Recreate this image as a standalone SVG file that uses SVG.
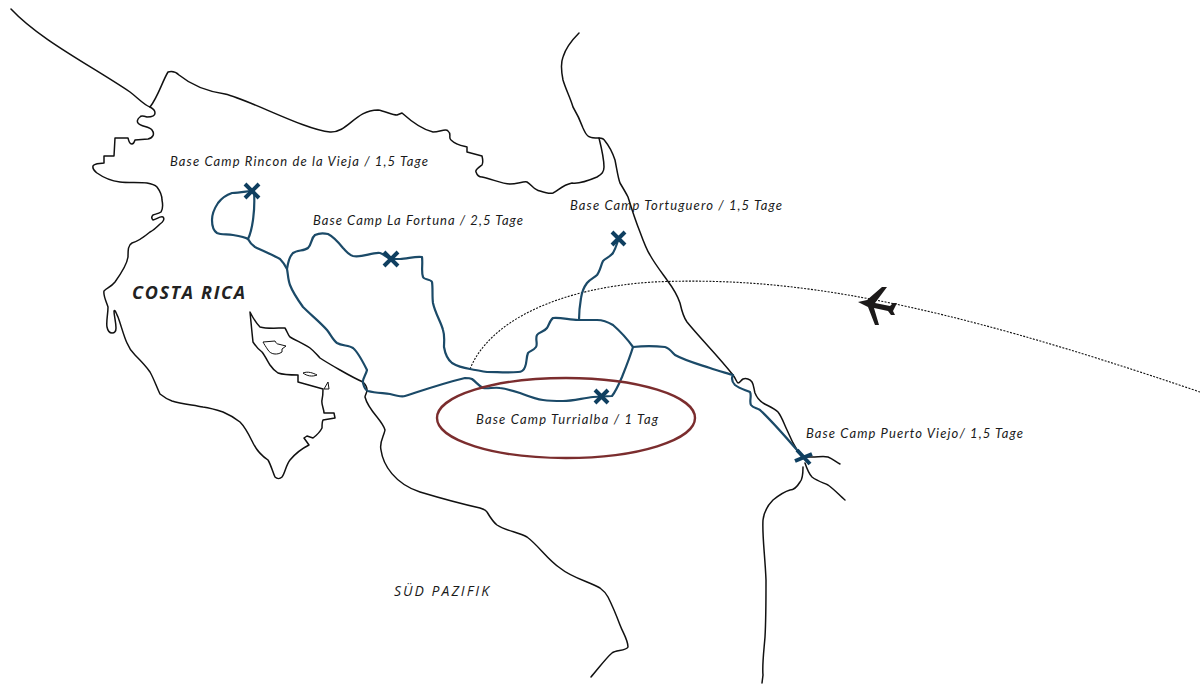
<svg xmlns="http://www.w3.org/2000/svg" width="1200" height="688" viewBox="0 0 1200 688">
<style>
.coast{fill:none;stroke:#111;stroke-width:1.5;stroke-linecap:round;stroke-linejoin:round}
.thin{fill:none;stroke:#111;stroke-width:1;stroke-linejoin:round}
.route{fill:none;stroke:#1b4a68;stroke-width:2.2;stroke-linecap:round;stroke-linejoin:round}
.cross{fill:none;stroke:#0f3f60;stroke-width:4}
.flight{fill:none;stroke:#111;stroke-width:1.1;stroke-dasharray:2 1.4}
.lbl{font-family:"Lato","Liberation Sans",sans-serif;font-style:italic;font-size:13px;fill:#1a1a1a}
</style>
<rect width="1200" height="688" fill="#fff"/>
<g id="coastline">
<path class="coast" d="M11 9C40 40 90 65 130 92C138 98 144 105 150 107C158 97 162 82 168 72C172 71 176 72 179 75C190 84 205 91 225 94C250 100 305 130 330 132C348 133 355 110 378 110C385 111 392 115 397 115L402 113C412 122 424 130 433 132C440 132 446 128 448 131C452 134 448 138 451 140C456 145 463 146 467 147L467 152L482 156C483 160 483 163 482 165C478 168 475 170 476 172C477 175 479 177 482 177C492 179 502 184 510 184C517 184 524 181 527 182C532 185 534 190 540 191C546 193 550 194 553 193C558 191 562 185 572 183C578 184 590 180 597 177C602 174 604 172 604 167C604 158 601 146 599 138C595 138 591 138 590 137C586 136 585 132 583 128C580 120 576 112 573 107C570 97 566 90 563 80C561 70 561 62 563 57C566 47 572 40 579 33"/>
<path class="coast" d="M599 138C602 138 604 139 605 141C610 147 613 154 615 160C617 170 618 178 620 183C623 188 626 193 628 197C632 210 636 222 640 232C644 243 648 252 650 255C655 264 662 273 667 280C673 288 678 297 680 303C682 312 684 318 687 322C700 338 718 356 733 375C736 379 737 383 738 383C740 383 741 380 743 379C746 378 750 379 752 382C754 385 754 390 755 393C757 398 760 401 763 403C768 406 774 408 778 412C782 417 784 424 787 430C790 437 794 445 797 450C799 453 801 456 803 457"/>
<path class="coast" d="M803 457C806 457 809 457 812 457C818 457 824 456 828 457C833 459 836 462 840 464"/>
<path class="coast" d="M805 463C807 469 809 474 812 477C817 481 824 483 828 485C834 489 840 496 845 500"/>
<path class="coast" d="M803 467C803 473 803 479 800 482C797 487 793 490 790 490C783 492 778 496 773 500C768 505 764 512 763 520C762 535 765 555 766 580C766 600 766 620 765 637C764 650 762 665 763 675L762 683"/>
<path class="coast" d="M150 107C152 108 155 110 155 113C155 116 151 117 147 117C144 116 141 115 140 117C137 119 137 122 138 123C141 127 149 126 152 130C155 134 153 138 148 139L135 140C134 143 133 144 132 144C129 144 129 141 128 138L115 138L114 156L104 156L104 163C99 164 95 163 93 166C92 170 96 172 97 173C104 178 112 181 120 182C128 183 140 182 147 183C153 184 156 186 157 187C160 191 162 196 162 200C163 205 163 209 161 212C158 214 155 214 153 215C151 217 152 219 153 220C157 219 160 216 163 217C165 219 163 222 160 224C155 229 154 230 150 232C144 237 139 241 132 243C128 245 128 250 128 257C127 264 120 275 115 282C111 287 107 288 104 291C103 295 106 301 108 307C108 314 106 322 107 327C108 332 110 333 112 333C115 333 116 331 116 328C116 322 114 316 114 311C115 309 116 313 118 317C121 325 124 337 127 343C129 348 132 352 135 355C140 360 146 366 150 372C154 379 157 388 160 394C165 398 169 400 172 401C182 404 194 405 203 407C210 408 217 410 223 412C230 415 235 418 240 422C246 428 250 437 253 443C257 451 262 456 268 460C271 465 273 473 275 477C277 479 280 479 282 477C285 473 286 465 290 460C295 454 303 448 309 445L304 438L307 436L313 438C317 435 320 432 322 428C322 425 322 422 323 420L335 418L334 413L324 413C324 409 321 404 322 400C323 396 323 392 323 389L298 382L298 375C291 375 284 375 278 373C275 371 272 368 270 365C267 360 265 356 262 352C258 349 255 345 253 342C252 333 251 322 250 312C253 318 256 323 260 327C267 329 277 328 285 328C287 331 288 335 290 337C297 341 304 344 310 348C314 351 317 355 320 358C326 362 333 366 340 370C347 374 356 379 363 382C365 384 367 387 367 390C367 393 365 395 365 397C367 405 372 411 377 417C381 422 384 426 385 430C384 436 379 442 381 450C383 465 395 484 420 492C440 498 462 504 480 508C483 509 486 510 487 512C490 517 493 522 497 525C506 531 518 532 527 537C538 545 548 560 560 568C572 578 590 582 600 588C604 591 606 593 608 597C612 605 617 617 620 625C623 633 628 640 628 647C626 651 616 650 612 653C606 658 598 669 591 677"/>
<path class="thin" d="M263 342L275 341C276 343 277 344 278 344L286 346L282 349L282 352C279 354 277 354 275 354C272 354 269 352 268 350C266 347 264 344 263 342Z"/>
<path class="thin" d="M303 373C308 371 313 373 317 375C312 377 307 376 303 373Z"/>
<path class="thin" d="M324 389L328 382L329 389Z"/>
</g>
<g id="connectors">
<path class="flight" d="M470 369C490 320 560 288 653 282C790 276 930 300 1200 392"/>
<path class="route" d="M250 191C243 192 238 193 232 193C226 195 221 199 218 203C214 209 212 215 212 220C212 226 214 231 217 233C221 235 227 234 233 235C239 236 245 237 248 239C251 233 252 227 253 220C254 212 255 206 254 191"/>
<path class="route" d="M248 239C250 243 252 245 255 247C263 251 273 255 280 259C283 262 285 265 287 269C288 274 288 280 290 285C293 293 298 300 303 307C311 315 320 322 327 330C331 335 333 340 337 343C342 346 349 345 353 348C358 352 363 362 367 370C366 375 362 379 363 383C364 387 365 390 368 391C375 393 383 393 390 394C397 396 402 397 405 396C415 393 440 384 465 378C468 378 470 378 472 379C476 382 479 386 483 388C488 389 494 387 500 388C507 389 514 391 520 393C528 396 535 399 543 400C550 401 557 401 563 401C573 401 583 398 593 397L612 396C616 391 619 384 622 377C626 367 630 357 633 347"/>
<path class="route" d="M633 347C628 340 621 332 613 325C608 322 603 320 597 320L578 320C570 320 560 317 553 318C550 320 549 325 547 328C544 332 539 332 537 335C535 339 538 344 536 347C534 350 530 351 528 353C526 358 527 363 525 367C524 370 522 372 518 372C508 373 497 372 487 372C481 371 476 370 470 369C464 368 457 366 452 363C447 359 445 353 444 347C444 341 445 336 443 330C441 322 435 313 433 303C432 296 433 288 432 282C431 279 424 280 423 277C421 272 423 264 422 257C415 256 407 259 400 259L391 259C387 258 384 254 380 253C372 252 362 258 353 256C349 255 347 252 343 248C339 243 334 237 328 234C324 233 319 233 315 235C311 238 312 244 308 248C304 251 297 250 293 253C290 256 288 262 287 269"/>
<path class="route" d="M579 320C579 312 580 304 581 298C582 291 584 287 587 283C590 279 594 278 597 275C600 271 601 265 603 261C606 258 610 257 613 253C616 248 617 243 619 238"/>
<path class="route" d="M633 347C643 346 655 346 665 347C669 348 672 352 675 355C686 361 698 364 710 368C718 371 727 373 733 375C731 379 733 383 735 385C740 389 746 390 750 392C752 396 749 401 751 405C753 408 757 408 760 410C775 424 790 442 803 457"/>
</g>
<g id="ellipse-turrialba"><ellipse cx="566" cy="418" rx="129" ry="40" fill="none" stroke="#7b2d2e" stroke-width="2.4"/></g>
<g id="plane"><path fill="#1c1a1a" d="M858 302L867 300L882 287L887 287L875 303L890 306L893 303L897 303L893 311L895 315L891 315L888 311L874 308L879 325L875 325L868 307Z"/></g>
<g id="camp-rincon">
<path class="cross" d="M245 184L259 198M259 184L245 198"/>
<text class="lbl" x="170" y="166" textLength="258">Base Camp Rincon de la Vieja / 1,5 Tage</text>
</g>
<g id="camp-fortuna">
<path class="cross" d="M384 252L398 266M398 252L384 266"/>
<text class="lbl" x="313" y="225" textLength="210">Base Camp La Fortuna / 2,5 Tage</text>
</g>
<g id="camp-tortuguero">
<path class="cross" d="M612 232L625 245M625 232L612 245"/>
<text class="lbl" x="570" y="210" textLength="212">Base Camp Tortuguero / 1,5 Tage</text>
</g>
<g id="camp-turrialba">
<path class="cross" d="M595 390L608 403M608 390L595 403"/>
<text class="lbl" x="476" y="424" textLength="182">Base Camp Turrialba / 1 Tag</text>
</g>
<g id="camp-puerto-viejo">
<path class="cross" d="M797 450L810 464M812 454L795 461"/>
<text class="lbl" x="806" y="438" textLength="217">Base Camp Puerto Viejo/ 1,5 Tage</text>
</g>
<text x="132" y="299" font-family="'Open Sans','Liberation Sans',sans-serif" font-style="italic" font-weight="700" font-size="18" fill="#222" textLength="113">COSTA RICA</text>
<text x="394" y="596" font-family="'Open Sans','Liberation Sans',sans-serif" font-style="italic" font-size="14" fill="#1a1a1a" textLength="95">SÜD PAZIFIK</text>
</svg>
